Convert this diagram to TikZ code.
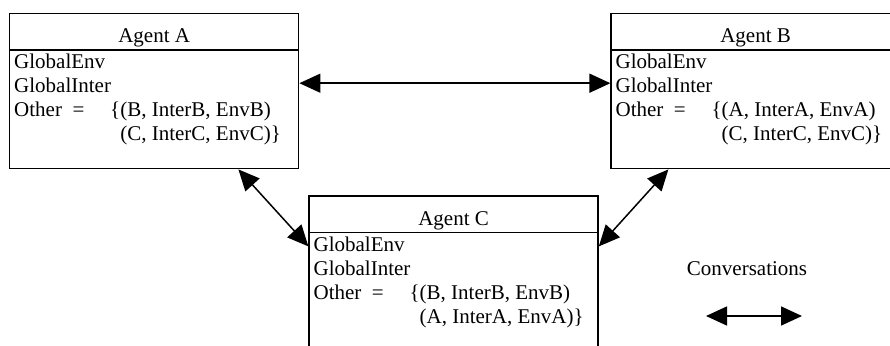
\documentclass[tikz,border=0pt]{standalone}
\usepackage{fontspec}
\setmainfont{Liberation Serif}
\usetikzlibrary{positioning}
\usetikzlibrary{arrows.meta}
\tikzset{
  agent/.style={rectangle,draw,line width=1.4pt,
                minimum width=289pt,minimum height=155pt,inner sep=0pt},
  agenttitle/.style={anchor=base,inner sep=0pt,
                     font=\fontsize{21pt}{24pt}\selectfont},
  agentbody/.style={anchor=north west,inner sep=0pt,align=left,
                    font=\fontsize{21pt}{24pt}\selectfont},
  divider/.style={line width=1.4pt},
  talk/.style={{Triangle[length=21pt,width=19pt]}-{Triangle[length=21pt,width=19pt]},
               line width=1.5pt},
  legend/.style={font=\fontsize{21pt}{24pt}\selectfont},
}
\newcommand{\otherset}[2]{\makebox[96pt][l]{Other\ \ =}\{#1\\
  \hspace*{96pt}\phantom{\{}#2\}}

\begin{document}
\begin{tikzpicture}
  \useasboundingbox (0,0) rectangle (890pt,-345pt);

  \node[agent,anchor=north west] (agA) at (9pt,-13pt) {};
  \node[agent] (agB) [right=311pt of agA] {};
  \node[agent] (agC) [below right=26pt and 9pt of agA.south east] {};

  % titles and contents
  \foreach \ag/\nm/\first/\second in {agA/A/{(B, InterB, EnvB)}/{(C, InterC, EnvC)},
                                     agB/B/{(A, InterA, EnvA)}/{(C, InterC, EnvC)},
                                     agC/C/{(B, InterB, EnvB)}/{(A, InterA, EnvA)}} {
    \node[agenttitle] (\ag-title) at ([yshift=-30pt]\ag.north) {Agent \nm};
    \draw[divider] ([yshift=-37pt]\ag.north west) -- ([yshift=-37pt]\ag.north east);
    \node[agentbody] (\ag-body) at ([xshift=5pt,yshift=-41pt]\ag.north west)
      {GlobalEnv\\GlobalInter\\\otherset{\first}{\second}};
  }

  \draw[talk] ([yshift=8pt]agA.east) -- ([yshift=8pt]agB.west);
  \draw[talk] ([xshift=-61pt]agA.south east) -- ([yshift=-51pt]agC.north west);
  \draw[talk] ([xshift=58pt]agB.south west) -- ([yshift=-51pt]agC.north east);

  % legend
  \node[legend] (conv) at (747pt,-269pt) {Conversations};
  \coordinate (convL) at (706pt,-316pt);
  \coordinate (convR) at (802pt,-316pt);
  \draw[talk] (convL) -- (convR);
\end{tikzpicture}
\end{document}
